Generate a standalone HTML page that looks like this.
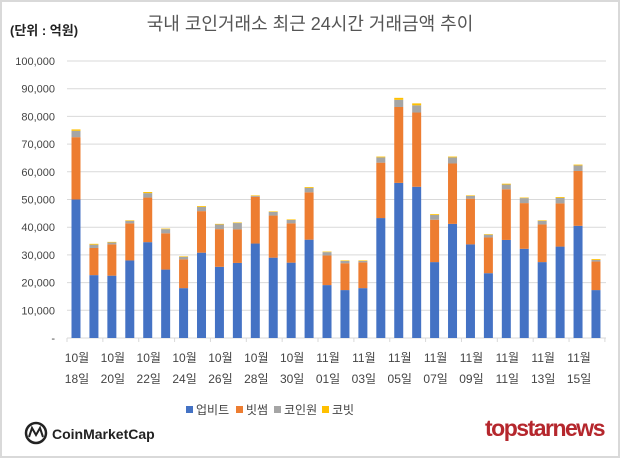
<!DOCTYPE html>
<html><head><meta charset="utf-8"><style>
body{margin:0;background:#fff;}
svg{display:block;font-family:"Liberation Sans","Noto Sans CJK KR",sans-serif;}
</style></head><body>
<svg id="s" width="620" height="458" xmlns="http://www.w3.org/2000/svg">
<rect x="1" y="1" width="618" height="456" fill="#fff" stroke="#d9d9d9" stroke-width="2"/>
<text x="10" y="35" font-size="13" font-weight="bold" fill="#222">(단위 : 억원)</text>
<text x="310" y="30" font-size="18" fill="#555" text-anchor="middle">국내 코인거래소 최근 24시간 거래금액 추이</text>
<g id="g"></g>
<g font-size="12" fill="#444">
<rect x="186" y="406" width="7" height="7" fill="#4472c4"/><text x="196" y="414">업비트</text>
<rect x="236" y="406" width="7" height="7" fill="#ed7d31"/><text x="246" y="414">빗썸</text>
<rect x="274" y="406" width="7" height="7" fill="#a5a5a5"/><text x="284" y="414">코인원</text>
<rect x="322" y="406" width="7" height="7" fill="#ffc000"/><text x="332" y="414">코빗</text>
</g>
<circle cx="36" cy="433" r="10" fill="none" stroke="#222" stroke-width="2.5"/>
<path d="M29 437 L32 428 L36 435 L40 428 L43 437" fill="none" stroke="#222" stroke-width="2"/>
<text x="52" y="439" font-size="14" font-weight="bold" fill="#222">CoinMarketCap</text>
<text x="604" y="436" font-size="23" font-weight="bold" fill="#b5272d" text-anchor="end" letter-spacing="-1.5">topstarnews</text>
</svg>
<script>
var d=[[50000,72500,74800,75300],[22700,32500,33700,34000],[22500,33800,34500,34700],[28000,41400,42300,42500],[34600,50700,52300,52700],[24700,37800,39300,39500],[18000,28400,29300,29500],[30800,45800,47300,47600],[25700,39300,41000,41200],[27100,39200,41500,41700],[34100,51000,51300,51500],[29000,44200,45500,45700],[27200,41400,42600,42800],[35500,52600,54200,54500],[19100,29800,31000,31200],[17300,27000,27800,28000],[18000,27300,27800,28000],[43300,63300,65200,65500],[56000,83400,86000,86700],[54600,81400,84000,84700],[27400,42700,44400,44700],[41200,63000,65200,65500],[33800,50300,51300,51500],[23400,36300,37300,37500],[35400,53700,55400,55700],[32200,48700,50500,50700],[27400,41000,42300,42500],[33000,48600,50600,50900],[40500,60300,62300,62600],[17300,27600,28200,28500]];
var c=["#4472c4","#ed7d31","#a5a5a5","#ffc000"];
var y0=338,k=27.7/10000,h='';
for(var i=0;i<=10;i++){var y=y0-i*27.7;
 if(i>0)h+='<line x1="67" x2="606" y1="'+y+'" y2="'+y+'" stroke="#d9d9d9"/>';
 h+='<text x="55" y="'+(y+4)+'" font-size="11" fill="#444" text-anchor="end">'+(i?(i*10)+',000':'-')+'</text>';}
h+='<line x1="67" x2="606" y1="338" y2="338" stroke="#d9d9d9"/>';
var sp=17.93;
for(var i=0;i<=15;i++){var x=67+i*2*sp;h+='<line x1="'+x+'" x2="'+x+'" y1="338" y2="342" stroke="#d9d9d9"/>';}
var lab=["18","20","22","24","26","28","30","01","03","05","07","09","11","13","15"];
for(var i=0;i<30;i++){var cx=76+i*sp,p=0;
 for(var j=0;j<4;j++){var t=d[i][j];h+='<rect x="'+(cx-4.5)+'" y="'+(y0-t*k)+'" width="9" height="'+((t-p)*k)+'" fill="'+c[j]+'"/>';p=t;}
 if(i%2==0){var m=i<14?"10월":"11월";var l=lab[i/2];
 h+='<text x="'+(cx+1)+'" y="362" font-size="12" fill="#444" text-anchor="middle">'+m+'</text>';
 h+='<text x="'+(cx+1)+'" y="383" font-size="12" fill="#444" text-anchor="middle">'+l+'일</text>';}}
document.getElementById('g').innerHTML=h;
</script>
</body></html>
